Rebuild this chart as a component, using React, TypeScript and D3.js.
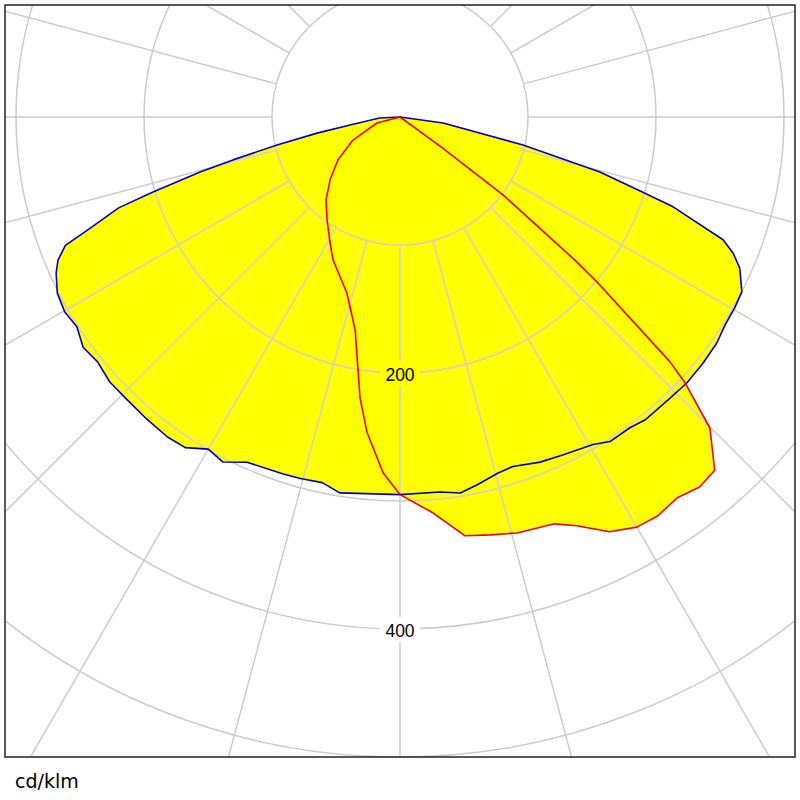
import React from "react";
import * as d3 from "d3";

const ringValues = [100, 200, 300, 400, 500];
const ringLabels = [200, 400];
const radialAngles = d3.range(0, 360, 15);
const unitLabel = "cd/klm";

// angle (deg from nadir, positive = right) and intensity (cd/klm)
const blueAngles = [-90, -87, -81, -79, -77.2, -75.6, -74.6, -73.1, -72.1, -70.1, -69, -67.3, -65.6, -62.8, -59.8, -57, -54, -51, -47.6, -44, -39.9, -36, -33, -30, -27.2, -23.9, -18.1, -15.4, -12, -9.1, 0, 6.1, 9.1, 11.8, 15.4, 17.9, 22.1, 25.7, 30.5, 32.9, 36.5, 39, 43.8, 47.2, 50.9, 54.5, 57.4, 60.3, 62.9, 66, 67.8, 69.2, 71.8, 72.8, 74.6, 77.2, 82, 90];
const blueValues = [0, 16, 39.5, 66, 98.5, 134.7, 162, 201.7, 231, 260, 280, 289.6, 295, 301, 303, 301, 306, 304, 307, 307, 308, 309, 308, 299.6, 303, 295, 293.5, 293, 292, 297.4, 295, 294.6, 297.5, 293.7, 288.5, 287, 291, 293, 297, 302, 302, 304.4, 304.5, 305.6, 305, 304, 301.5, 301, 300, 290.6, 281, 270, 224.6, 198.6, 162, 98.6, 34, 0];

const redAngles = [-90, -75.4, -63.9, -55.3, -48, -41.7, -35.3, -29, -25.1, -16.8, -11.9, -8.1, -6, -2.7, 0, 4.8, 8.8, 12.2, 15.7, 20.8, 23.4, 26.8, 30, 32.9, 36, 39, 41.7, 44.9, 47, 47.8, 50.05, 50.7, 52.9, 54, 90];
const redValues = [0, 18.6, 40.9, 59, 73.6, 86.9, 98.6, 112.6, 123.3, 143.6, 170, 221.7, 247.4, 278.4, 295, 310.5, 331, 334, 337.6, 340, 348, 363, 370, 371, 368, 372, 369.6, 343, 304.5, 284.8, 200.8, 176.6, 100.9, 40, 0];

export default function App() {
  const W = 800, H = 800;
  const cx = 400, cy = 117;
  const frame = { x: 5, y: 5, w: 790, h: 752 };
  const r = d3.scaleLinear().domain([0, 100]).range([0, 128]);

  const toRad = (deg: number) => Math.PI - (deg * Math.PI) / 180;
  const line = d3
    .lineRadial<[number, number]>()
    .angle((d) => toRad(d[0]))
    .radius((d) => r(d[1]))
    .curve(d3.curveLinearClosed);

  const blue = blueAngles.map((a, i) => [a, blueValues[i]] as [number, number]);
  const red = redAngles.map((a, i) => [a, redValues[i]] as [number, number]);
  const blueD = line(blue) || "";
  const redD = line(red) || "";

  const rMax = r(700);
  const rMin = r(100);

  const grid = (color: string) => (
    <g>
      {ringValues.map((v) => (
        <circle key={v} r={r(v)} fill="none" stroke={color} strokeWidth={1.5} />
      ))}
      {radialAngles.map((a) => {
        const t = (a * Math.PI) / 180;
        return (
          <line
            key={a}
            x1={rMin * Math.sin(t)}
            y1={rMin * Math.cos(t)}
            x2={rMax * Math.sin(t)}
            y2={rMax * Math.cos(t)}
            stroke={color}
            strokeWidth={1.5}
          />
        );
      })}
    </g>
  );

  return (
    <svg width={W} height={H} style={{ position: "absolute", left: 0, top: 0, background: "#fff" }}>
      <defs>
        <clipPath id="frameClip">
          <rect x={frame.x} y={frame.y} width={frame.w} height={frame.h} />
        </clipPath>
        <clipPath id="fillClip">
          <path d={redD} transform={`translate(${cx},${cy})`} />
          <path d={blueD} transform={`translate(${cx},${cy})`} />
        </clipPath>
        <mask id="labelMask" maskUnits="userSpaceOnUse" x={0} y={0} width={W} height={H}>
          <rect x={0} y={0} width={W} height={H} fill="#fff" />
          {ringLabels.map((v) => (
            <rect key={v} x={cx - 20} y={cy + r(v) - 12} width={40} height={25} fill="#000" />
          ))}
        </mask>
      </defs>
      <g clipPath="url(#frameClip)">
        <g transform={`translate(${cx},${cy})`}>
          <path d={redD} fill="#ffff00" stroke="none" />
          <path d={blueD} fill="#ffff00" stroke="none" />
        </g>
        <g mask="url(#labelMask)">
          <g transform={`translate(${cx},${cy})`}>{grid("#cccccc")}</g>
          <g clipPath="url(#fillClip)">
            <g transform={`translate(${cx},${cy})`}>{grid("#ddd6a6")}</g>
          </g>
        </g>
        <g transform={`translate(${cx},${cy})`}>
          <path d={blueD} fill="none" stroke="#0000c0" strokeWidth={1.6} strokeLinejoin="round" />
          <path d={redD} fill="none" stroke="#ee0000" strokeWidth={1.6} strokeLinejoin="round" />
          {ringLabels.map((v) => (
            <text
              key={v}
              x={0}
              y={r(v) + 2}
              dy="0.36em"
              textAnchor="middle"
              fontFamily="Liberation Sans, Arial, sans-serif"
              fontSize={17.5}
              fill="#000"
            >
              {v}
            </text>
          ))}
        </g>
      </g>
      <rect x={frame.x} y={frame.y} width={frame.w} height={frame.h} fill="none" stroke="#222" strokeWidth={1.5} />
      <text x={15} y={788} fontFamily="DejaVu Sans, Verdana, sans-serif" fontSize={19} fill="#000">
        {unitLabel}
      </text>
    </svg>
  );
}
